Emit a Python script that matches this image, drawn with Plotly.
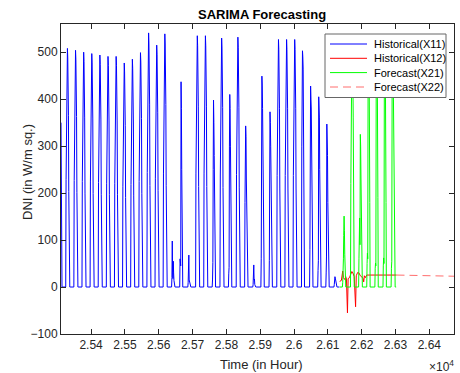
import plotly.graph_objects as go

# ---------------- data ----------------
# Historical(X11): hourly DNI, first sample at hour 25311
X11_START_HOUR = 25311
x11_first_day = [350, 40, 0, 0, 0, 0, 0, 0]          # tail of a partial first day
x11_peaks = [508, 504, 500, 497, 494, 491, 491, 477, 485, 499, 541, 515, 539,
             98, 437, 68, 535, 535, 400, 530, 410, 532, 343, 47, 449, 373,
             527, 527, 527, 503, 428, 405, 347, 22]
clear_shape = [0, 0, 0, 0, 0, 0, 0, 0.45, 0.75, 0.88, 0.96, 1.00,
               0.96, 0.88, 0.72, 0.40, 0.05, 0, 0, 0, 0, 0, 0, 0]
# cloudy days: hours 6..17 read individually
x11_cloudy = {
    13: [0, 0, 20, 98, 30, 18, 55, 30, 14, 5, 0, 0],
    14: [0, 0, 60, 215, 45, 437, 380, 250, 100, 20, 0, 0],
    15: [0, 0, 10, 30, 68, 15, 10, 8, 3, 0, 0, 0],
    18: [0, 0, 15, 52, 250, 398, 350, 280, 150, 40, 0, 0],
    20: [0, 0, 28, 42, 300, 410, 380, 300, 150, 40, 0, 0],
    22: [0, 0, 180, 300, 343, 320, 230, 157, 140, 60, 0, 0],
    23: [0, 0, 5, 20, 47, 15, 17, 5, 0, 0, 0, 0],
    24: [0, 0, 60, 179, 449, 430, 380, 250, 120, 20, 0, 0],
    25: [0, 0, 57, 264, 373, 350, 300, 200, 90, 10, 0, 0],
    29: [0, 0, 300, 440, 503, 490, 464, 250, 125, 96, 0, 0],
    30: [0, 0, 80, 185, 428, 400, 379, 250, 120, 20, 0, 0],
    31: [0, 0, 35, 57, 405, 390, 360, 250, 120, 20, 0, 0],
    32: [0, 0, 30, 64, 347, 330, 280, 180, 80, 10, 0, 0],
    33: [0, 0, 5, 12, 22, 19, 15, 8, 3, 0, 0, 0],
}

# Historical(X12)
x12_hours = [26135, 26140, 26144, 26146, 26150, 26153, 26155, 26158, 26160,
             26164, 26167, 26171, 26174, 26178, 26182, 26184, 26188, 26192,
             26196, 26200, 26204, 26206, 26208, 26211, 26215, 26303]
x12_values = [12, 14, 34, 20, 16, 22, 17, -55, 18, 20, 26, 33, 30, 22, -42,
              24, 31, 30, 24, 22, 18, 11, 24, 20, 25.5, 25.5]

# Forecast(X21): hourly, hours 8..19 of each forecast day
X21_START_HOUR = 26135
x21_daylight = [
    [0, 10, 25, 60, 110, 151, 120, 70, 30, 5, 0, 0],
    [0, 220, 390, 470, 510, 525, 505, 450, 360, 150, 0, 0],
    [0, 60, 110, 147, 90, 325, 300, 230, 140, 30, 0, 0],
    [0, 50, 72, 60, 430, 500, 520, 480, 390, 180, 0, 0],
    [0, 40, 51, 45, 440, 505, 525, 485, 400, 190, 0, 0],
    [0, 45, 62, 50, 430, 500, 520, 480, 390, 180, 0, 0],
    [0, 40, 55, 420, 500, 515, 480, 400, 319, 120, 0, 0],
]

# Forecast(X22)
x22_hours = [26303, 26388, 26473]
x22_values = [25.5, 24.2, 23.0]

x_tick_hours = [25400, 25500, 25600, 25700, 25800, 25900, 26000, 26100, 26200, 26300, 26400]
x_tick_labels = ['2.54', '2.55', '2.56', '2.57', '2.58', '2.59', '2.6', '2.61', '2.62', '2.63', '2.64']
y_ticks = [-100, 0, 100, 200, 300, 400, 500]

series_names = ['Historical(X11)', 'Historical(X12)', 'Forecast(X21)', 'Forecast(X22)']
series_colors = ['#0000FF', '#FF0000', '#00FF00', '#FF6E6E']
series_dash = ['solid', 'solid', 'solid', '8px,5px']

# ---------------- build series ----------------
x11 = list(x11_first_day)
for d, pk in enumerate(x11_peaks):
    if d in x11_cloudy:
        x11 += [0] * 6 + x11_cloudy[d] + [0] * 6
    else:
        x11 += [round(pk * s, 1) for s in clear_shape]
t11 = [X11_START_HOUR + i for i in range(len(x11))]

x21 = []
for day in x21_daylight:
    x21 += [0] * 8 + day + [0] * 4
t21 = [X21_START_HOUR + i for i in range(len(x21))]

FONT = 'Liberation Sans, Arial, Helvetica, sans-serif'
AX = '#262626'

fig = go.Figure()
data = [(t11, x11), (x12_hours, x12_values), (t21, x21), (x22_hours, x22_values)]
for (xs, ys), name, col, dash in zip(data, series_names, series_colors, series_dash):
    fig.add_trace(go.Scatter(x=xs, y=ys, mode='lines', name=name, showlegend=False,
                             line=dict(color=col, width=1, dash=dash)))

# ---------------- layout ----------------
W, H = 460, 373
ML, MR, MT, MB = 61, 6, 24, 39
PW, PH = W - ML - MR, H - MT - MB


def px_x(p):
    return (p - ML) / PW


def px_y(p):
    return (H - MB - p) / PH


axis_common = dict(showgrid=False, zeroline=False, showline=True, linecolor=AX, linewidth=1,
                   mirror='ticks', ticks='inside', ticklen=5, tickwidth=1, tickcolor=AX,
                   tickfont=dict(family=FONT, size=12, color=AX))

fig.update_layout(
    width=W, height=H, margin=dict(l=ML, r=MR, t=MT, b=MB),
    paper_bgcolor='white', plot_bgcolor='white', showlegend=False,
    font=dict(family=FONT, color=AX),
    xaxis=dict(range=[25311, 26473], tickmode='array', tickvals=x_tick_hours,
               ticktext=x_tick_labels, **axis_common),
    yaxis=dict(range=[-100, 560], tickmode='array', tickvals=y_ticks, **axis_common),
)

annotations = [
    dict(text='<b>SARIMA Forecasting</b>', x=px_x(261.7), y=px_y(14.5), xanchor='center',
         yanchor='middle', font=dict(size=13, color='#000000', family=FONT)),
    dict(text='Time (in Hour)', x=px_x(261.7), y=px_y(364), xanchor='center', yanchor='middle',
         font=dict(size=13, color=AX, family=FONT)),
    dict(text='DNI (in W/m sq.)', x=px_x(27), y=px_y(172), textangle=-90, xanchor='center',
         yanchor='middle', font=dict(size=13, color=AX, family=FONT)),
    dict(text='×10<sup>4</sup>', x=px_x(456), y=px_y(366), xanchor='right', yanchor='middle',
         font=dict(size=12, color=AX, family=FONT)),
]

# legend box drawn by hand (MATLAB style)
shapes = [dict(type='rect', xref='paper', yref='paper', x0=px_x(325), x1=px_x(446),
               y0=px_y(97.5), y1=px_y(34), fillcolor='white', line=dict(color='#666666', width=1),
               layer='above')]
row_y = [44, 58.3, 72.6, 87]
for ry, name, col, dash in zip(row_y, series_names, series_colors, series_dash):
    shapes.append(dict(type='line', xref='paper', yref='paper', x0=px_x(330), x1=px_x(367),
                       y0=px_y(ry), y1=px_y(ry), line=dict(color=col, width=1, dash=dash),
                       layer='above'))
    annotations.append(dict(text=name, x=px_x(371.5), y=px_y(ry), xanchor='left', yanchor='middle',
                            font=dict(size=11, color='#000000', family=FONT)))

for a in annotations:
    a.update(xref='paper', yref='paper', showarrow=False)
fig.update_layout(annotations=annotations, shapes=shapes)

fig.write_html('out.html', config={'displayModeBar': False},
               post_script="document.body.style.margin='0';document.body.style.padding='0';")
